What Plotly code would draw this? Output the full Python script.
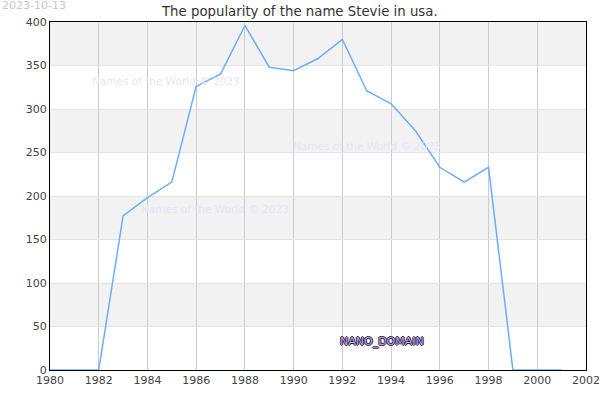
import plotly.graph_objects as go

years = list(range(1980, 2002))
counts = [0, 0, 0, 177, 198, 216, 326, 340, 396, 348, 344, 358, 380, 321, 306, 275, 233, 216, 233, 0, 0, 0]
title_text = "The popularity of the name Stevie in usa."
date_text = "2023-10-13"
watermark = "Names of the World © 2023"
band_ranges = [(50, 100), (150, 200), (250, 300), (350, 400)]

fig = go.Figure()
fig.add_trace(go.Scatter(x=years, y=counts, mode="lines",
                         line=dict(color="#6aaefc", width=1.5),
                         hoverinfo="x+y", showlegend=False))

shapes = []
for lo, hi in band_ranges:
    shapes.append(dict(type="rect", xref="paper", yref="y", x0=0, x1=1, y0=lo, y1=hi,
                       fillcolor="#f2f2f2", line=dict(width=0), layer="below"))

fig.update_layout(
    width=600, height=400,
    margin=dict(l=50, r=14, t=22, b=30),
    paper_bgcolor="white", plot_bgcolor="white",
    font=dict(family="DejaVu Sans", size=11, color="#444"),
    shapes=shapes,
    xaxis=dict(range=[1980, 2002], dtick=2, tick0=1980, showgrid=True,
               gridcolor="#cccccc", gridwidth=1, zeroline=False, automargin=False,
               showline=True, linecolor="black", linewidth=1, mirror=True,
               ticks="", tickfont=dict(size=11, color="#444")),
    yaxis=dict(range=[0, 400], dtick=50, showgrid=True, gridcolor="#e4e4e4",
               zeroline=False, showline=True, linecolor="black", linewidth=1,
               automargin=False, mirror=True, ticks="",
               tickfont=dict(size=11, color="#444")),
    annotations=[
        dict(text=title_text, x=0.4664, xref="paper", y=1, yref="paper", yanchor="bottom",
             xanchor="center", showarrow=False, yshift=1,
             font=dict(size=13.3, color="#333")),
        dict(text=date_text, x=0, xref="paper", xshift=-50, y=1, yref="paper", yshift=8,
             xanchor="left", yanchor="bottom", showarrow=False,
             font=dict(size=11, color="#c8c8c8")),
        dict(text=watermark, x=0.217, xref="paper", y=0.83, yref="paper",
             xanchor="center", yanchor="middle",
             showarrow=False, font=dict(size=10.5, color="#e6e6f6")),
        dict(text=watermark, x=0.592, xref="paper", y=0.643, yref="paper",
             xanchor="center", yanchor="middle",
             showarrow=False, font=dict(size=10.5, color="#e6e6f6")),
        dict(text=watermark, x=0.307, xref="paper", y=0.462, yref="paper",
             xanchor="center", yanchor="middle",
             showarrow=False, font=dict(size=10.5, color="#e6e6f6")),
        dict(text="NANO_DOMAIN", x=0.619, xref="paper", y=0.083, yref="paper",
             xanchor="center", yanchor="middle",
             showarrow=False,
             font=dict(size=11, color="#b8a6e0", family="DejaVu Sans",
                       shadow="1px 0 0 #2e2048, -1px 0 0 #2e2048, 0 1px 0 #2e2048, 0 -1px 0 #2e2048")),
    ],
)

fig.write_html("out.html")
